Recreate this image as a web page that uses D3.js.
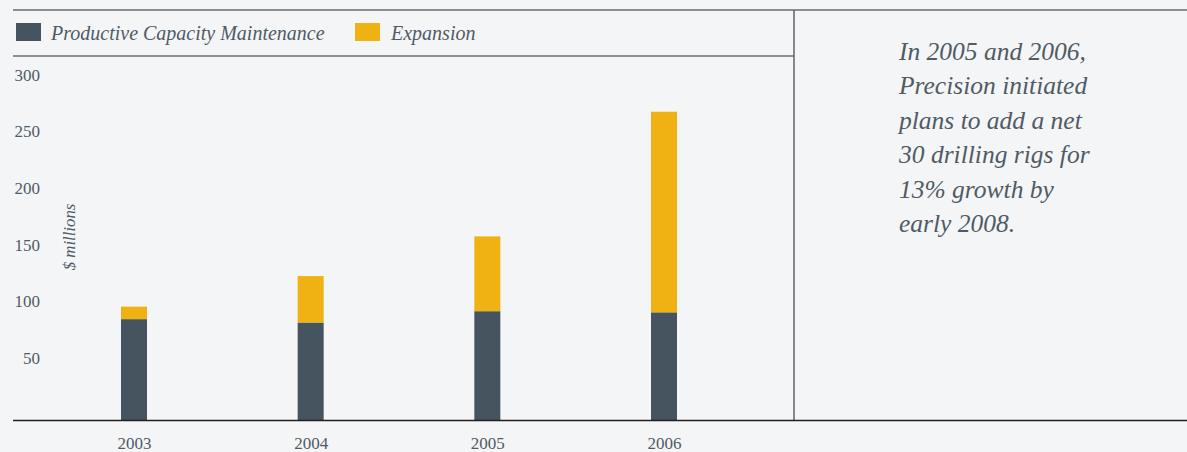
<!DOCTYPE html>
<html>
<head>
<meta charset="utf-8">
<script src="https://cdn.jsdelivr.net/npm/d3@7"></script>
<style>
  html, body { margin: 0; padding: 0; background: #f4f5f7; }
  svg { display: block; }
</style>
</head>
<body>
<svg id="chart" width="1187" height="452"></svg>
<script>
const categories = ["2003", "2004", "2005", "2006"];
const maintenance = [89, 86, 96, 95];
const expansion = [11, 41, 66, 177];
const yTicks = [50, 100, 150, 200, 250, 300];
const seriesNames = ["Productive Capacity Maintenance", "Expansion"];
const seriesColors = ["#45545f", "#f0b212"];
const noteLines = ["In 2005 and 2006,", "Precision initiated", "plans to add a net", "30 drilling rigs for", "13% growth by", "early 2008."];
const axisTitle = "$ millions";

const W = 1187, H = 452;
const svg = d3.select("#chart");
const textColor = "#505b64";
const serif = "'Liberation Serif', 'DejaVu Serif', serif";

svg.append("rect").attr("width", W).attr("height", H).attr("fill", "#f4f5f7");

const y = d3.scaleLinear().domain([0, 300]).range([420, 80]);
const x = d3.scalePoint().domain(categories).range([134, 664]);
const barW = 26;

const rows = categories.map((c, i) => ({ cat: c, maintenance: maintenance[i], expansion: expansion[i] }));
const stack = d3.stack().keys(["maintenance", "expansion"])(rows);

svg.append("g").selectAll("g").data(stack).join("g")
  .attr("fill", (d, i) => seriesColors[i])
  .selectAll("rect").data(d => d).join("rect")
  .attr("x", d => x(d.data.cat) - barW / 2)
  .attr("width", barW)
  .attr("y", d => y(d[1]))
  .attr("height", d => y(d[0]) - y(d[1]));

// y tick labels (baseline at tick)
const yAxis = d3.axisLeft(y).tickValues(yTicks).tickSize(0).tickPadding(0);
const gy = svg.append("g").attr("transform", "translate(40,0)").call(yAxis);
gy.select(".domain").remove();
gy.selectAll("text")
  .attr("dy", 0)
  .attr("font-family", serif)
  .attr("font-size", 17)
  .attr("fill", textColor);

// x labels
const xAxis = d3.axisBottom(x).tickSize(0).tickPadding(0);
const gx = svg.append("g").attr("transform", "translate(0,449)").call(xAxis);
gx.select(".domain").remove();
gx.selectAll("text")
  .attr("dy", 0)
  .attr("y", 0)
  .attr("font-family", serif)
  .attr("font-size", 17)
  .attr("fill", textColor);

// axis title
svg.append("text")
  .attr("transform", "translate(75,237) rotate(-90)")
  .attr("text-anchor", "middle")
  .attr("font-family", serif)
  .attr("font-style", "italic")
  .attr("font-size", 16.8)
  .attr("fill", textColor)
  .text(axisTitle);

// frame lines
svg.append("line").attr("x1", 13).attr("x2", W).attr("y1", 10).attr("y2", 10)
  .attr("stroke", "#6a6c70").attr("stroke-width", 1.6);
svg.append("line").attr("x1", 13).attr("x2", 794).attr("y1", 56).attr("y2", 56)
  .attr("stroke", "#6a6c70").attr("stroke-width", 1.6);
svg.append("line").attr("x1", 794).attr("x2", 794).attr("y1", 10).attr("y2", 420)
  .attr("stroke", "#6a6c70").attr("stroke-width", 1.6);
svg.append("line").attr("x1", 13).attr("x2", W).attr("y1", y(0) + 0.5).attr("y2", y(0) + 0.5)
  .attr("stroke", "#231f20").attr("stroke-width", 1.4);

// legend
const legendX = [16, 355];
const lg = svg.append("g").selectAll("g").data(seriesNames).join("g")
  .attr("transform", (d, i) => `translate(${legendX[i]},0)`);
lg.append("rect").attr("x", 0).attr("y", 23).attr("width", 25).attr("height", 18)
  .attr("fill", (d, i) => seriesColors[i]);
lg.append("text").attr("x", (d, i) => i === 0 ? 35 : 36).attr("y", 40)
  .attr("font-family", serif).attr("font-style", "italic").attr("font-size", 20)
  .attr("fill", textColor).text(d => d);

// note
svg.append("g").selectAll("text").data(noteLines).join("text")
  .attr("x", 899)
  .attr("y", (d, i) => 60 + i * 34.4)
  .attr("font-family", serif).attr("font-style", "italic").attr("font-size", 25.5)
  .attr("fill", textColor).text(d => d);
</script>
</body>
</html>
